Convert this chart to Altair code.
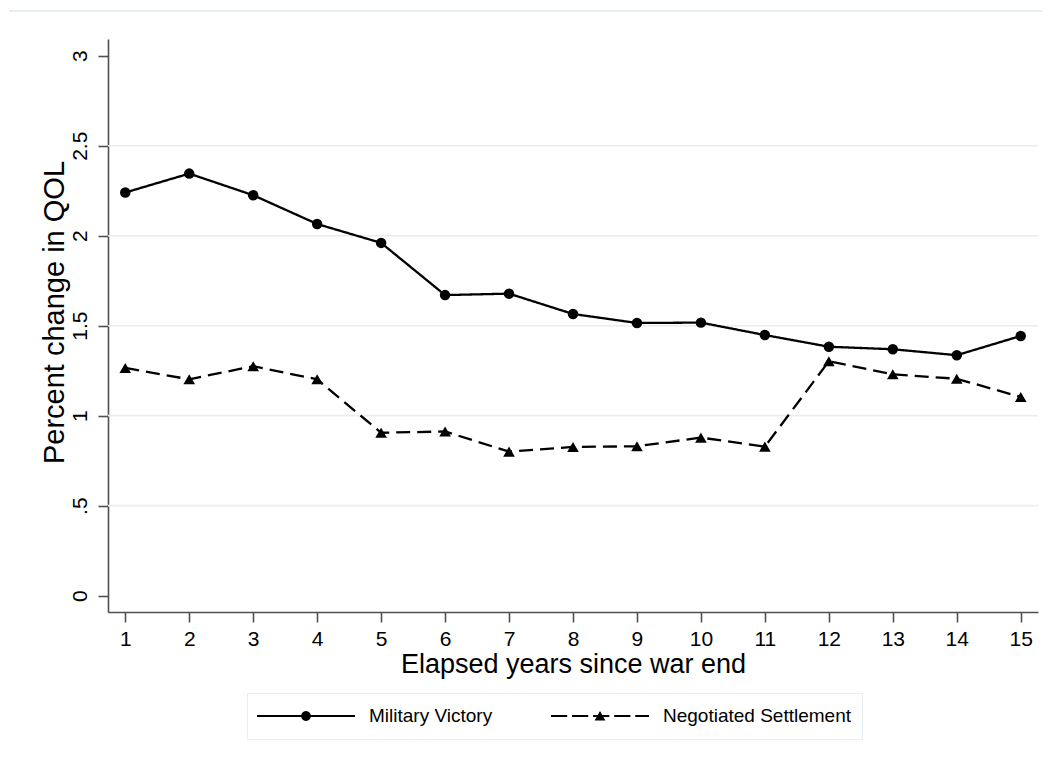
import altair as alt
import pandas as pd
import math

# ---- data ----
years = list(range(1, 16))
military_victory = [2.24, 2.345, 2.225, 2.065, 1.96, 1.67, 1.678, 1.565, 1.515, 1.517,
                    1.448, 1.383, 1.369, 1.336, 1.443]
negotiated_settlement = [1.265, 1.202, 1.275, 1.202, 0.905, 0.912, 0.80, 0.826, 0.83, 0.878,
                         0.828, 1.302, 1.23, 1.205, 1.104]
series_names = ["Military Victory", "Negotiated Settlement"]
y_ticks = [0, 0.5, 1, 1.5, 2, 2.5, 3]
grid_values = [0.5, 1, 1.5, 2, 2.5]

rows = []
for i, yr in enumerate(years):
    rows.append({"year": yr, "value": military_victory[i], "series": series_names[0]})
    rows.append({"year": yr, "value": negotiated_settlement[i], "series": series_names[1]})
df = pd.DataFrame(rows)
grid_df = pd.DataFrame({"g": grid_values})

FONT = "Liberation Sans"
GRID = "#E6EEF1"
AXIS = "#505050"

# ---- legend symbol paths (line + marker), unit box [-1,1], all filled shapes ----
HW = 0.022  # half line thickness in unit coords

def seg(a, b):
    return f"M{a:.3f},{-HW}L{b:.3f},{-HW}L{b:.3f},{HW}L{a:.3f},{HW}Z"

def circle_path(r, n=24):
    pts = []
    for k in range(n):
        t = 2 * math.pi * k / n
        pts.append(f"{r*math.cos(t):.4f},{r*math.sin(t):.4f}")
    return "M" + "L".join(pts) + "Z"

tri_path = "M0,-0.1L0.11,0.09L-0.11,0.09Z"
solid_sym = seg(-1, 1) + circle_path(0.1)

dash, gap = 0.33, 0.10
dashed_sym = ""
x0 = -1.0
while x0 < 1.0:
    x1 = min(x0 + dash, 1.0)
    dashed_sym += seg(x0, x1)
    x0 = x1 + gap
dashed_sym += tri_path

xscale = alt.Scale(domain=[0.73, 15.27], nice=False, zero=False)
yscale = alt.Scale(domain=[-0.091, 3.093], nice=False, zero=False)

x_enc = alt.X("year:Q", scale=xscale,
              axis=alt.Axis(values=years, title="Elapsed years since war end",
                            grid=False, labelAngle=0, format="d"))
y_enc = alt.Y("value:Q", scale=yscale,
              axis=alt.Axis(values=y_ticks, title="Percent change in QOL", grid=False,
                            labelAngle=-90, format="~g", labelPadding=8,
                            labelExpr="datum.value == 0.5 ? '.5' : datum.label",
                            titleFontSize=29,
                            titleX=-54, titleY=273, titleAngle=270,
                            titleBaseline="middle", titleAlign="center"))

grid = alt.Chart(grid_df).mark_rule(color=GRID, strokeWidth=1.6).encode(
    y=alt.Y("g:Q", scale=yscale)
)

lines = alt.Chart(df).mark_line(color="black", strokeWidth=2.3).encode(
    x=x_enc, y=y_enc,
    strokeDash=alt.StrokeDash("series:N",
                              scale=alt.Scale(domain=series_names, range=[[1, 0], [14, 7]]),
                              legend=None),
    detail="series:N",
)

points = alt.Chart(df).mark_point(filled=True, color="black", opacity=1).encode(
    x=x_enc, y=y_enc,
    shape=alt.Shape("series:N",
                    scale=alt.Scale(domain=series_names, range=["circle", "triangle-up"]),
                    legend=None),
    size=alt.Size("series:N", scale=alt.Scale(domain=series_names, range=[110, 135]),
                  legend=None),
)

legend_layer = alt.Chart(df).mark_point(filled=True, color="black", opacity=1, size=9604).transform_filter(
    "false"
).encode(
    x=x_enc, y=y_enc,
    shape=alt.Shape("series:N",
                    scale=alt.Scale(domain=series_names, range=[solid_sym, dashed_sym]),
                    legend=alt.Legend(title=None, orient="none", legendX=139, legendY=654,
                                      direction="horizontal", columns=2,
                                      symbolSize=9604, clipHeight=26,
                                      symbolStrokeColor="black", symbolFillColor="black",
                                      symbolStrokeWidth=0, symbolOpacity=1,
                                      labelFont=FONT, labelFontSize=19, labelColor="black",
                                      labelOffset=14, columnPadding=58, labelLimit=400,
                                      padding=10, strokeColor=GRID, fillColor="white",
                                      cornerRadius=0)),
)

top_border = alt.Chart(grid_df).mark_rule(color=GRID, strokeWidth=2).encode(
    x=alt.value(-99), x2=alt.value(950), y=alt.value(-28)
)

chart = alt.layer(grid, top_border, lines, points, legend_layer).resolve_scale(
    shape="independent", size="independent"
).properties(
    width=930, height=573,
    autosize=alt.AutoSizeParams(type="none"),
    padding={"left": 100, "top": 31, "right": 4, "bottom": 160},
    background="white",
).configure_view(stroke=None).configure_axis(
    domainColor=AXIS, domainWidth=1.6, tickColor=AXIS, tickWidth=1.6, tickSize=10,
    labelFont=FONT, labelFontSize=21, labelColor="black", labelPadding=6,
    titleFont=FONT, titleFontSize=27, titleFontWeight="normal", titleColor="black",
).configure_axisX(titlePadding=2)

chart.save("out.html", embed_options={"renderer": "svg", "actions": False})
